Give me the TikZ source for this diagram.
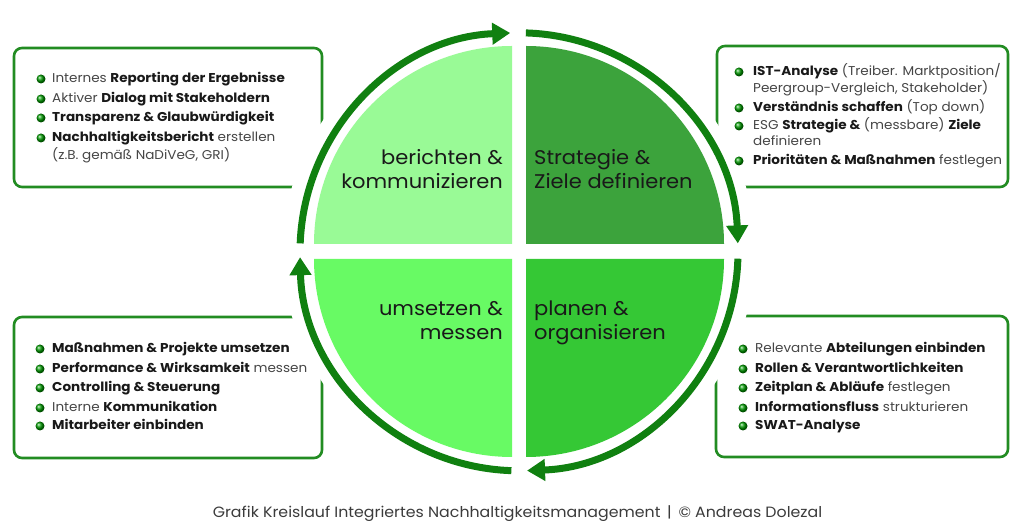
\documentclass[tikz,border=0pt]{standalone}
\usepackage{fontspec}
\setmainfont{Poppins}[FakeStretch=1.06]
\usetikzlibrary{arrows.meta}
\definecolor{ringgreen}{RGB}{16,128,16}
\definecolor{boxgreen}{RGB}{34,140,34}
\definecolor{qtl}{RGB}{153,250,150}
\definecolor{qtr}{RGB}{60,163,60}
\definecolor{qbl}{RGB}{104,250,100}
\definecolor{qbr}{RGB}{53,200,53}
\definecolor{txt}{RGB}{25,25,25}
\definecolor{reg}{RGB}{70,70,70}
\tikzset{
  infobox/.style={draw=boxgreen, line width=2.6pt, rounded corners=8pt, fill=white},
  ring/.style={draw=ringgreen, line width=7pt, -{Triangle[width=21pt,length=18pt]}},
  qtext/.style={font=\fontsize{19.8}{24}\selectfont, text=txt, inner sep=0pt, align=left},
  qtextr/.style={qtext, align=right},
  itext/.style={font=\fontsize{12.8}{15}\selectfont, text=reg, inner sep=0pt, anchor=base west},
  bullet/.style={circle, inner sep=0pt, minimum size=9pt, ball color=green!60!black, draw=none},
  captext/.style={font=\fontsize{14.9}{17}\selectfont, text=txt!85, inner sep=0pt, anchor=base},
}
\newcommand\bb[1]{\textbf{\color{txt}#1}}
\begin{document}
\begin{tikzpicture}[x=1pt,y=1pt]
\useasboundingbox (0,0) rectangle (1024,532);
% boxes
\draw[infobox] (14,345) rectangle (322,484);
\draw[infobox] (717,345) rectangle (1008,486);
\draw[infobox] (14,74) rectangle (322,215);
\draw[infobox] (716,75) rectangle (1008,216);
% white disc
\coordinate (c) at (519,280.2);
\fill[white] (c) circle (236);
% quadrants
\fill[qtl] (512,288) -- ++(-198,0) arc[start angle=180,end angle=90,radius=198] -- cycle;
\fill[qtr] (526,288) -- ++(0,198) arc[start angle=90,end angle=0,radius=198] -- cycle;
\fill[qbl] (512,273) -- ++(0,-198) arc[start angle=270,end angle=180,radius=198] -- cycle;
\fill[qbr] (526,273) -- ++(198,0) arc[start angle=0,end angle=-90,radius=198] -- cycle;
% ring arrows
\draw[ring] (c) ++(177.8:219) arc[start angle=177.8,end angle=92.3,radius=219];
\draw[ring] (c) ++(88.2:219) arc[start angle=88.2,end angle=2.2,radius=219];
\draw[ring] (c) ++(-1.8:219) arc[start angle=-1.8,end angle=-87.9,radius=219];
\draw[ring] (c) ++(-92:219) arc[start angle=-92,end angle=-178.6,radius=219];
% quadrant texts
\node[qtextr, anchor=base east] (qa) at (503,367) {berichten \&};
\node[qtextr, anchor=base east] (qa2) at (503,343) {kommunizieren};
\node[qtext, anchor=base west] (qb) at (534,367) {Strategie \&};
\node[qtext, anchor=base west] (qb2) at (534,343) {Ziele definieren};
\node[qtextr, anchor=base east] (qc) at (503,216) {umsetzen \&};
\node[qtextr, anchor=base east] (qc2) at (503,192) {messen};
\node[qtext, anchor=base west] (qd) at (534,216) {planen \&};
\node[qtext, anchor=base west] (qd2) at (534,192) {organisieren};
% top-left box
\node[bullet] (tlb1) at (41,453) {};
\node[itext] (tl1) at (52,449) {Internes \bb{Reporting der Ergebnisse}};
\node[bullet] (tlb2) at (41,433) {};
\node[itext] (tl2) at (52,429) {Aktiver \bb{Dialog mit Stakeholdern}};
\node[bullet] (tlb3) at (41,414) {};
\node[itext] (tl3) at (52,410) {\bb{Transparenz \& Glaubwürdigkeit}};
\node[bullet] (tlb4) at (41,394) {};
\node[itext] (tl4) at (52,390) {\bb{Nachhaltigkeitsbericht} erstellen};
\node[itext] (tl5) at (52,372) {(z.B. gemäß NaDiVeG, GRI)};
% top-right box
\node[bullet] (trb1) at (739,460) {};
\node[itext] (tr1) at (753,456) {\bb{IST-Analyse} (Treiber. Marktposition/};
\node[itext] (tr2) at (753,439) {Peergroup-Vergleich, Stakeholder)};
\node[bullet] (trb2) at (739,424) {};
\node[itext] (tr3) at (753,420) {\bb{Verständnis schaffen} (Top down)};
\node[bullet] (trb3) at (739,406) {};
\node[itext] (tr4) at (753,402) {ESG \bb{Strategie \&} (messbare) \bb{Ziele}};
\node[itext] (tr5) at (753,386) {definieren};
\node[bullet] (trb4) at (739,371) {};
\node[itext] (tr6) at (753,367) {\bb{Prioritäten \& Maßnahmen} festlegen};
% bottom-left box
\node[bullet] (blb1) at (40,183) {};
\node[itext] (bl1) at (52,179) {\bb{Maßnahmen \& Projekte umsetzen}};
\node[bullet] (blb2) at (40,163) {};
\node[itext] (bl2) at (52,159) {\bb{Performance \& Wirksamkeit} messen};
\node[bullet] (blb3) at (40,144) {};
\node[itext] (bl3) at (52,140) {\bb{Controlling \& Steuerung}};
\node[bullet] (blb4) at (40,124) {};
\node[itext] (bl4) at (52,120) {Interne \bb{Kommunikation}};
\node[bullet] (blb5) at (40,106) {};
\node[itext] (bl5) at (52,102) {\bb{Mitarbeiter einbinden}};
% bottom-right box
\node[bullet] (brb1) at (743,183) {};
\node[itext] (br1) at (755,179) {Relevante \bb{Abteilungen einbinden}};
\node[bullet] (brb2) at (743,163) {};
\node[itext] (br2) at (755,159) {\bb{Rollen \& Verantwortlichkeiten}};
\node[bullet] (brb3) at (743,144) {};
\node[itext] (br3) at (755,140) {\bb{Zeitplan \& Abläufe} festlegen};
\node[bullet] (brb4) at (743,124) {};
\node[itext] (br4) at (755,120) {\bb{Informationsfluss} strukturieren};
\node[bullet] (brb5) at (743,106) {};
\node[itext] (br5) at (755,102) {\bb{SWAT-Analyse}};
% caption
\node[captext] (caption) at (517.5,14) {Grafik Kreislauf Integriertes Nachhaltigkeitsmanagement \,\textbar\, © Andreas Dolezal};
\end{tikzpicture}
\end{document}
